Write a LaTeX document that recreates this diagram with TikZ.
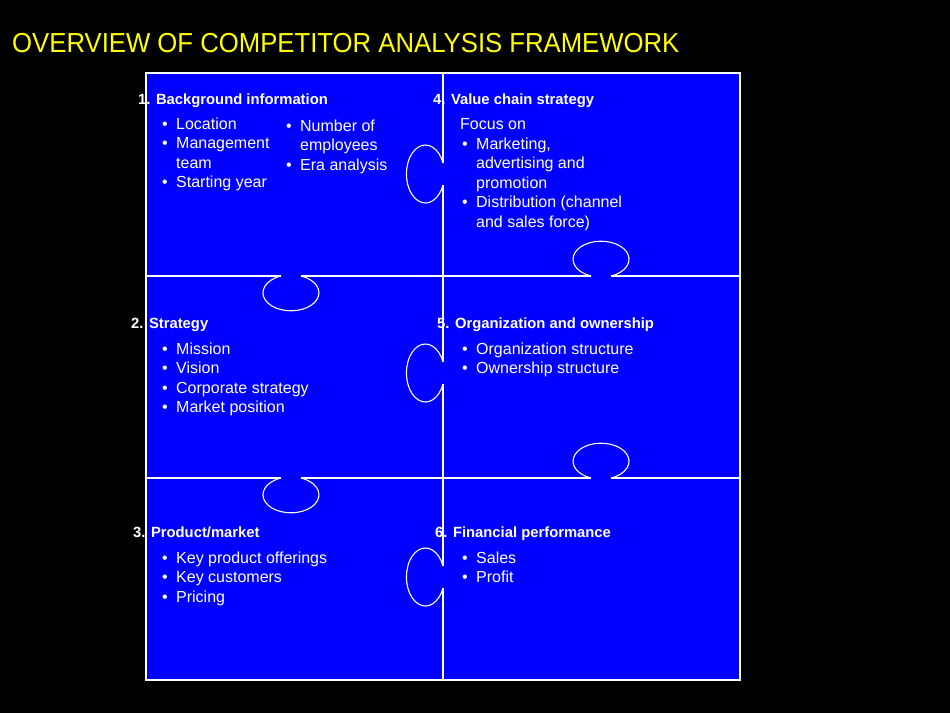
\documentclass[tikz,border=0pt]{standalone}
\usepackage{fontspec}
\setmainfont{Liberation Sans}
\usetikzlibrary{positioning}
\definecolor{puzzleblue}{RGB}{0,0,255}
\definecolor{titleyellow}{RGB}{255,255,0}
\newenvironment{plist}{\begin{tabular}[t]{@{}p{14pt}@{}l@{}}}{\end{tabular}}

\tikzset{
  piece/.style={white, line width=1.1pt},
  heading/.style={anchor=base west, inner sep=0pt, text=white, font=\fontsize{14.8}{18}\selectfont\bfseries},
  bullets/.style={anchor=base west, inner sep=0pt, text=white, font=\fontsize{16}{19.5}\selectfont},
}

\begin{document}
\begin{tikzpicture}[x=1pt, y=-1pt]
    \fill[black] (0,0) rectangle (950,713);
    \node[anchor=base west, inner sep=0pt, text=titleyellow, font=\fontsize{27.5}{30}\selectfont] (title) at (12,52) {\scalebox{0.935}[1]{OVERVIEW OF COMPETITOR ANALYSIS FRAMEWORK}};

    % puzzle board
    \fill[puzzleblue] (146,73) rectangle (740,680);
    \draw[piece] (146,73) rectangle (740,680);
    \draw[piece] (443,73) -- (443,163) (443,185) -- (443,362) (443,384) -- (443,566) (443,588) -- (443,680);
    \foreach \ly in {276,478}
        \draw[piece] (146,\ly) -- (281,\ly) (301,\ly) -- (591,\ly) (611,\ly) -- (740,\ly);

    % knobs
    \foreach \cy in {174,373,577}
        \draw[piece] (443,\cy+11) arc[start angle=22.3, end angle=337.7, x radius=19, y radius=29];
    \foreach \ly in {276,478} {
        \draw[piece] (301,\ly) arc[start angle=-69, end angle=249, x radius=28, y radius=18];
        \draw[piece] (591,\ly) arc[start angle=111, end angle=429, x radius=28, y radius=18];
    }

    % 1
    \node[heading] (head1) at (138,104) {1. Background information};
    \node[bullets] (list1a) at (162,129) {\begin{plist}\textbullet & Location\\ \textbullet & Management\\ & team\\ \textbullet & Starting year\end{plist}};
    \node[bullets] (list1b) at (286,131) {\begin{plist}\textbullet & Number of\\ & employees\\ \textbullet & Era analysis\end{plist}};

    % 4
    \node[heading] (head4) at (433,104) {4. Value chain strategy};
    \node[bullets] (focus4) at (460,129) {Focus on};
    \node[bullets] (list4) at (462,149) {\begin{plist}\textbullet & Marketing,\\ & advertising and\\ & promotion\\ \textbullet & Distribution (channel\\ & and sales force)\end{plist}};

    % 2
    \node[heading] (head2) at (131,328) {2. Strategy};
    \node[bullets] (list2) at (162,354) {\begin{plist}\textbullet & Mission\\ \textbullet & Vision\\ \textbullet & Corporate strategy\\ \textbullet & Market position\end{plist}};

    % 5
    \node[heading] (head5) at (437,328) {5. Organization and ownership};
    \node[bullets] (list5) at (462,354) {\begin{plist}\textbullet & Organization structure\\ \textbullet & Ownership structure\end{plist}};

    % 3
    \node[heading] (head3) at (133,537) {3. Product/market};
    \node[bullets] (list3) at (162,563) {\begin{plist}\textbullet & Key product offerings\\ \textbullet & Key customers\\ \textbullet & Pricing\end{plist}};

    % 6
    \node[heading] (head6) at (435,537) {6. Financial performance};
    \node[bullets] (list6) at (462,563) {\begin{plist}\textbullet & Sales\\ \textbullet & Profit\end{plist}};
\end{tikzpicture}
\end{document}
